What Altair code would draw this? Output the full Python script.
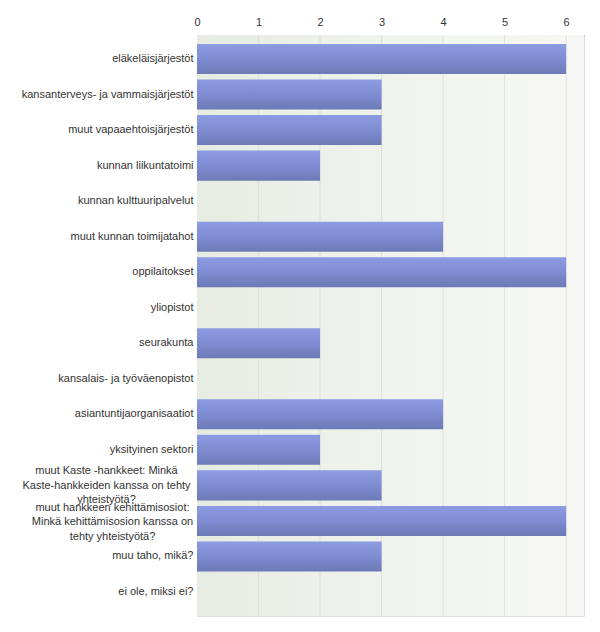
import altair as alt
import pandas as pd

categories = [
    "eläkeläisjärjestöt",
    "kansanterveys- ja vammaisjärjestöt",
    "muut vapaaehtoisjärjestöt",
    "kunnan liikuntatoimi",
    "kunnan kulttuuripalvelut",
    "muut kunnan toimijatahot",
    "oppilaitokset",
    "yliopistot",
    "seurakunta",
    "kansalais- ja työväenopistot",
    "asiantuntijaorganisaatiot",
    "yksityinen sektori",
    "muut Kaste -hankkeet: Minkä|Kaste-hankkeiden kanssa on tehty|yhteistyötä?",
    "muut hankkeen kehittämisosiot:|Minkä kehittämisosion kanssa on|tehty yhteistyötä?",
    "muu taho, mikä?",
    "ei ole, miksi ei?",
]
values = [6, 3, 3, 2, 0, 4, 6, 0, 2, 0, 4, 2, 3, 6, 3, 0]
tick_values = [0, 1, 2, 3, 4, 5, 6]
x_max = 6.29

df = pd.DataFrame({"category": categories, "count": values})
bg = pd.DataFrame({"x0": [0.0], "x1": [x_max]})
grid = pd.DataFrame({"t": tick_values[1:]})

xscale = alt.Scale(domain=[0, x_max], nice=False, zero=True)
xaxis = alt.Axis(
    orient="top", values=tick_values, title=None, grid=False,
    domainColor="#8c8c8c", tickSize=0, labelPadding=8, labelFlush=False,
    labelFont="Liberation Sans", labelFontSize=11, labelColor="#333333",
    format="d",
)

bg_grad = alt.Gradient(
    gradient="linear",
    stops=[alt.GradientStop(color="#e7ece2", offset=0),
           alt.GradientStop(color="#f0f3ed", offset=0.5),
           alt.GradientStop(color="#f7f8f5", offset=1)],
    x1=0, x2=1, y1=0, y2=0,
)
bar_grad = alt.Gradient(
    gradient="linear",
    stops=[alt.GradientStop(color="#8d9be2", offset=0),
           alt.GradientStop(color="#7e8cd2", offset=0.5),
           alt.GradientStop(color="#6c7ab6", offset=1)],
    x1=0, x2=0, y1=0, y2=1,
)

background = alt.Chart(bg).mark_rect(color=bg_grad).encode(
    x=alt.X("x0:Q", scale=xscale, axis=xaxis),
    x2="x1:Q",
)

gridlines = alt.Chart(grid).mark_rule(color="#dde1dc", strokeWidth=1).encode(
    x=alt.X("t:Q", scale=xscale, axis=xaxis),
)

bars = alt.Chart(df).mark_bar(color=bar_grad).encode(
    x=alt.X("count:Q", scale=xscale, axis=xaxis),
    y=alt.Y(
        "category:N",
        sort=categories,
        scale=alt.Scale(paddingInner=0.155, paddingOuter=0.254),
        axis=alt.Axis(
            title=None, ticks=False, tickSize=0, domain=False,
            labelFont="Liberation Sans", labelFontSize=11, labelColor="#333333",
            labelLimit=220, labelLineHeight=14.5,
            labelExpr="split(datum.label, '|')",
            labelAlign={"condition": {"test": "indexof(datum.value, '|') >= 0", "value": "center"}, "value": "right"},
            labelPadding={"condition": [
                {"test": "indexof(datum.value, 'Kaste -') >= 0", "value": 91},
                {"test": "indexof(datum.value, 'kehittämisosiot') >= 0", "value": 85},
            ], "value": 4},
            labelOffset={"condition": [
                {"test": "indexof(datum.value, 'Kaste -') >= 0", "value": -14},
                {"test": "indexof(datum.value, 'kehittämisosiot') >= 0", "value": -13},
            ], "value": 0},
        ),
    ),
)

chart = alt.layer(background, gridlines, bars).properties(
    width=387, height=581,
    autosize=alt.AutoSizeParams(type="none"),
    padding={"left": 189, "top": 27, "right": 4, "bottom": 8},
).configure_view(stroke="#a5a5a5", strokeWidth=1).configure(background="white")

chart.save("out.html", embed_options={"renderer": "svg", "actions": False})
